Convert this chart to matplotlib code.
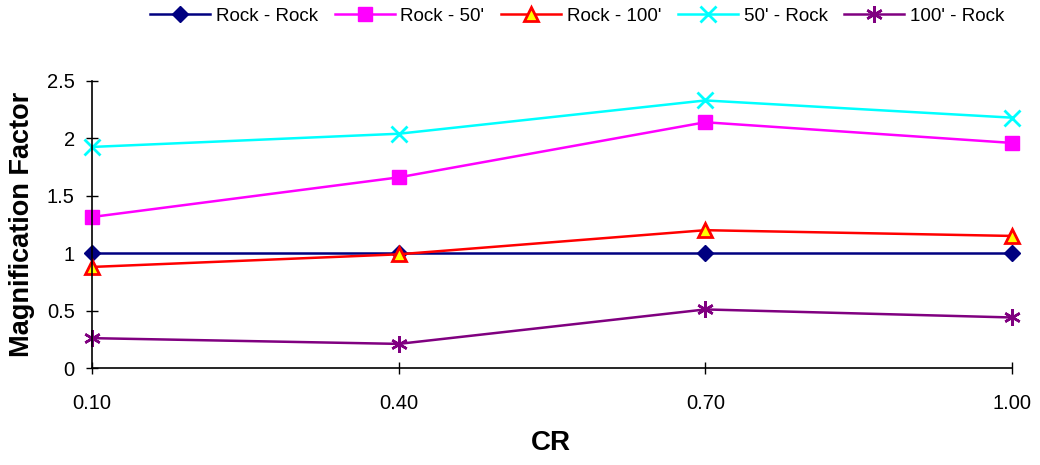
import matplotlib
matplotlib.use("Agg")
import matplotlib.pyplot as plt

# data
cr = [0.10, 0.40, 0.70, 1.00]
xtips = ['0.10', '0.40', '0.70', '1.00']
names = ['Rock - Rock', "Rock - 50'", "Rock - 100'", "50' - Rock", "100' - Rock"]

rock_rock = [1.0, 1.0, 1.0, 1.0]
rock_50 = [1.315, 1.66, 2.14, 1.96]
rock_100 = [0.88, 0.99, 1.20, 1.15]
f50_rock = [1.925, 2.04, 2.33, 2.18]
f100_rock = [0.26, 0.21, 0.51, 0.44]

plt.rcParams['font.family'] = ['Liberation Sans', 'DejaVu Sans']

fig = plt.figure(figsize=(10.4, 4.65), dpi=100)
ax = fig.add_axes([0.0885, 0.2086, 0.8845, 0.6174])

lines = []
l, = ax.plot(cr, rock_rock, color='#000080', lw=1.8, marker='D', ms=8, mfc='#000080', mec='#000080', clip_on=False)
lines.append(l)
l, = ax.plot(cr, rock_50, color='#FF00FF', lw=1.8, marker='s', ms=10, mfc='#FF00FF', mec='#FF00FF', clip_on=False)
lines.append(l)
l, = ax.plot(cr, rock_100, color='#FF0000', lw=1.8, marker='^', ms=10, mfc='#FFFF00', mec='#FF0000', mew=2, clip_on=False)
lines.append(l)
l, = ax.plot(cr, f50_rock, color='#00FFFF', lw=1.8, marker='x', ms=11, mew=2, mec='#00FFFF', clip_on=False)
lines.append(l)
l, = ax.plot(cr, f100_rock, color='#800080', lw=1.8, marker=(6, 2, 0), ms=12, mew=1.8, mec='#800080', clip_on=False)
lines.append(l)

ax.set_xlim(0.1, 1.0)
ax.set_ylim(0, 2.5)
ax.set_xticks(cr)
ax.set_xticklabels(xtips)
ax.set_yticks([0, 0.5, 1, 1.5, 2, 2.5])
ax.set_yticklabels(['0', '0.5', '1', '1.5', '2', '2.5'])
ax.tick_params(direction='inout', length=9, width=1, labelsize=14.5)
ax.tick_params(axis='x', pad=14)
ax.tick_params(axis='y', pad=8)

for s in ['top', 'right']:
    ax.spines[s].set_visible(False)
for s in ['left', 'bottom']:
    ax.spines[s].set_linewidth(1.2)

ax.set_xlabel('CR', fontsize=20, fontweight='bold')
ax.xaxis.set_label_coords(0.499, -0.215)
ax.set_ylabel('Magnification Factor', fontsize=19.5, fontweight='bold')
ax.yaxis.set_label_coords(-0.062, 0.5)

fig.legend(lines, names, loc='upper center', bbox_to_anchor=(0.555, 1.02), ncol=5,
           frameon=False, fontsize=13.5, handlelength=3.2, handletextpad=0.3, columnspacing=0.9)

fig.savefig('out.png', dpi=100)
